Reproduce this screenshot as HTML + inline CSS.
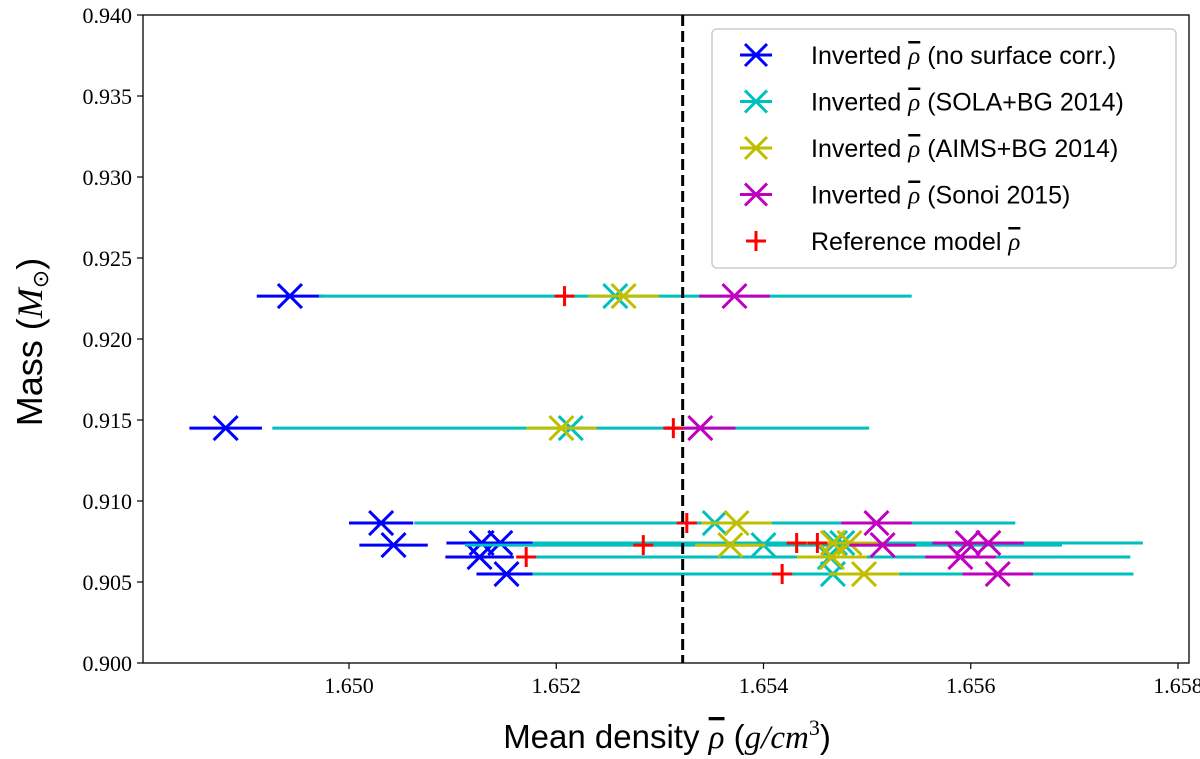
<!DOCTYPE html>
<html><head><meta charset="utf-8"><style>
html,body{margin:0;padding:0;background:#fff;}
svg{display:block;}
.tick{font-family:"Liberation Serif",serif;font-size:22px;fill:#000;}
.leg{font-family:"Liberation Sans",sans-serif;font-size:25px;fill:#000;}
.rho{font-family:"Liberation Serif",serif;font-style:italic;text-decoration:overline;}
</style></head><body>
<svg id="chart" width="1200" height="759" viewBox="0 0 1200 759" xmlns="http://www.w3.org/2000/svg"></svg>
<script>
// ---- data ----
const masses   = [0.92265, 0.91450, 0.90864, 0.90728, 0.90741, 0.90741, 0.90654, 0.90549];
const blueVals = [1.64943, 1.64881, 1.65031, 1.65043, 1.65128, 1.65146, 1.65126, 1.65152];
const blueErr  = [0.00032, 0.00035, 0.00031, 0.00033, 0.00034, 0.00034, 0.00033, 0.00029];
const cyanVals = [1.65257, 1.65214, 1.65353, 1.65400, 1.65469, 1.65476, 1.65464, 1.65467];
const cyanErr  = [0.00286, 0.00288, 0.00290, 0.00288, 0.00292, 0.00290, 0.00290, 0.00290];
const yellowVals = [1.65265, 1.65205, 1.65374, 1.65368, 1.65467, 1.65483, 1.65466, 1.65497];
const yellowErr  = [0.00034, 0.00034, 0.00034, 0.00034, 0.00034, 0.00034, 0.00034, 0.00034];
const magentaVals = [1.65372, 1.65339, 1.65509, 1.65515, 1.65597, 1.65617, 1.65590, 1.65626];
const magentaErr  = [0.00034, 0.00034, 0.00034, 0.00032, 0.00034, 0.00034, 0.00034, 0.00034];
const refVals  = [1.65208, 1.65313, 1.65326, 1.65284, 1.65432, 1.65452, 1.65171, 1.65418];
const vline = 1.65322;
const xTicks = [1.650, 1.652, 1.654, 1.656, 1.658];
const xTickLabels = ["1.650","1.652","1.654","1.656","1.658"];
const yTicks = [0.900,0.905,0.910,0.915,0.920,0.925,0.930,0.935,0.940];
const yTickLabels = ["0.900","0.905","0.910","0.915","0.920","0.925","0.930","0.935","0.940"];
const legendPre = ["Inverted ","Inverted ","Inverted ","Inverted ","Reference model "];
const legendPost = [" (no surface corr.)"," (SOLA+BG 2014)"," (AIMS+BG 2014)"," (Sonoi 2015)",""];

// ---- axes ----
const L=143,R=1189,T=15,B=663;
const X = v => 349 + (v-1.650)*103625;
const Y = v => B - (v-0.900)*16200;
const svg = document.getElementById('chart');
const NS="http://www.w3.org/2000/svg";
function mk(tag,attrs,parent){const e=document.createElementNS(NS,tag);for(const k in attrs)e.setAttribute(k,attrs[k]);(parent||svg).appendChild(e);return e;}

function series(vals,errs,color,name){
  const g=mk('g',{});
  
  
  vals.forEach((v,i)=>{
    const y=Y(masses[i]);
    const eb=mk('line',{x1:X(v-errs[i]),x2:X(v+errs[i]),y1:y,y2:y,stroke:color,'stroke-width':3},g);
    
    
  });
  vals.forEach((v,i)=>{
    const x=X(v),y=Y(masses[i]),s=12;
    const p=mk('path',{d:`M${x-s} ${y-s}L${x+s} ${y+s}M${x-s} ${y+s}L${x+s} ${y-s}`,stroke:color,'stroke-width':3,fill:'none'},g);
    
    
  });
}
series(blueVals,blueErr,'#0000ff','no-surface-corr');
series(cyanVals,cyanErr,'#00bfbf','sola-bg-2014');
series(yellowVals,yellowErr,'#bfbf00','aims-bg-2014');
series(magentaVals,magentaErr,'#bf00bf','sonoi-2015');
refVals.forEach((v,i)=>{
  const x=X(v),y=Y(masses[i]),s=10;
  const p=mk('path',{d:`M${x-s} ${y}L${x+s} ${y}M${x} ${y-s}L${x} ${y+s}`,stroke:'#ff0000','stroke-width':3,fill:'none'});
  
  
});
const vl=mk('line',{x1:X(vline),x2:X(vline),y1:T,y2:B,stroke:'#000','stroke-width':3,'stroke-dasharray':'11 5'});



const fr=mk('rect',{x:L,y:T,width:R-L,height:B-T,fill:'none',stroke:'#000','stroke-width':1.3});



xTicks.forEach((v,i)=>{
  const x=X(v);
  mk('line',{x1:x,x2:x,y1:B,y2:B+6,stroke:'#000','stroke-width':1.2});
  const t=mk('text',{x:x,y:B+30,'text-anchor':'middle',class:'tick'});t.textContent=xTickLabels[i];
  
  
});
yTicks.forEach((v,i)=>{
  const y=Y(v);
  mk('line',{x1:L-6,x2:L,y1:y,y2:y,stroke:'#000','stroke-width':1.2});
  const t=mk('text',{x:L-11,y:y+8,'text-anchor':'end',class:'tick'});t.textContent=yTickLabels[i];
  
  
});

// legend
const lg=mk('g',{});


mk('rect',{x:712,y:29,width:464,height:239,rx:5,fill:'#fff',stroke:'#ccc','stroke-width':1.5},lg);
const lcol=['#0000ff','#00bfbf','#bfbf00','#bf00bf','#ff0000'];
legendPre.forEach((lab,i)=>{
  const y=55+i*46.5,x=756;
  if(i<4){
    mk('path',{d:`M${x-16} ${y}L${x+16} ${y}M${x-11} ${y-11}L${x+11} ${y+11}M${x-11} ${y+11}L${x+11} ${y-11}`,stroke:lcol[i],'stroke-width':3,fill:'none'},lg);
  } else {
    mk('path',{d:`M${x-10} ${y}L${x+10} ${y}M${x} ${y-10}L${x} ${y+10}`,stroke:lcol[i],'stroke-width':3,fill:'none'},lg);
  }
  const t=mk('text',{x:811,y:y+9,class:'leg'},lg);
  t.innerHTML=lab+'<tspan class="rho">\u03C1</tspan>'+legendPost[i];
  
  
});

// axis titles
const xt=mk('text',{x:667,y:748,'text-anchor':'middle','font-family':'Liberation Sans, sans-serif','font-size':33});
xt.innerHTML='Mean density <tspan class="rho">\u03C1</tspan> (<tspan font-family="Liberation Serif, serif" font-style="italic">g/cm</tspan><tspan font-family="Liberation Serif, serif" font-size="22" dy="-13">3</tspan><tspan dy="13">)</tspan>';


const yt=mk('text',{x:0,y:0,'text-anchor':'middle','font-family':'Liberation Sans, sans-serif','font-size':36,transform:'translate(42,342) rotate(-90)'});
yt.innerHTML='Mass (<tspan font-family="Liberation Serif, serif" font-style="italic">M</tspan><tspan font-size="22" dy="6">\u2299</tspan><tspan dy="-6">)</tspan>';


</script>
</body></html>
